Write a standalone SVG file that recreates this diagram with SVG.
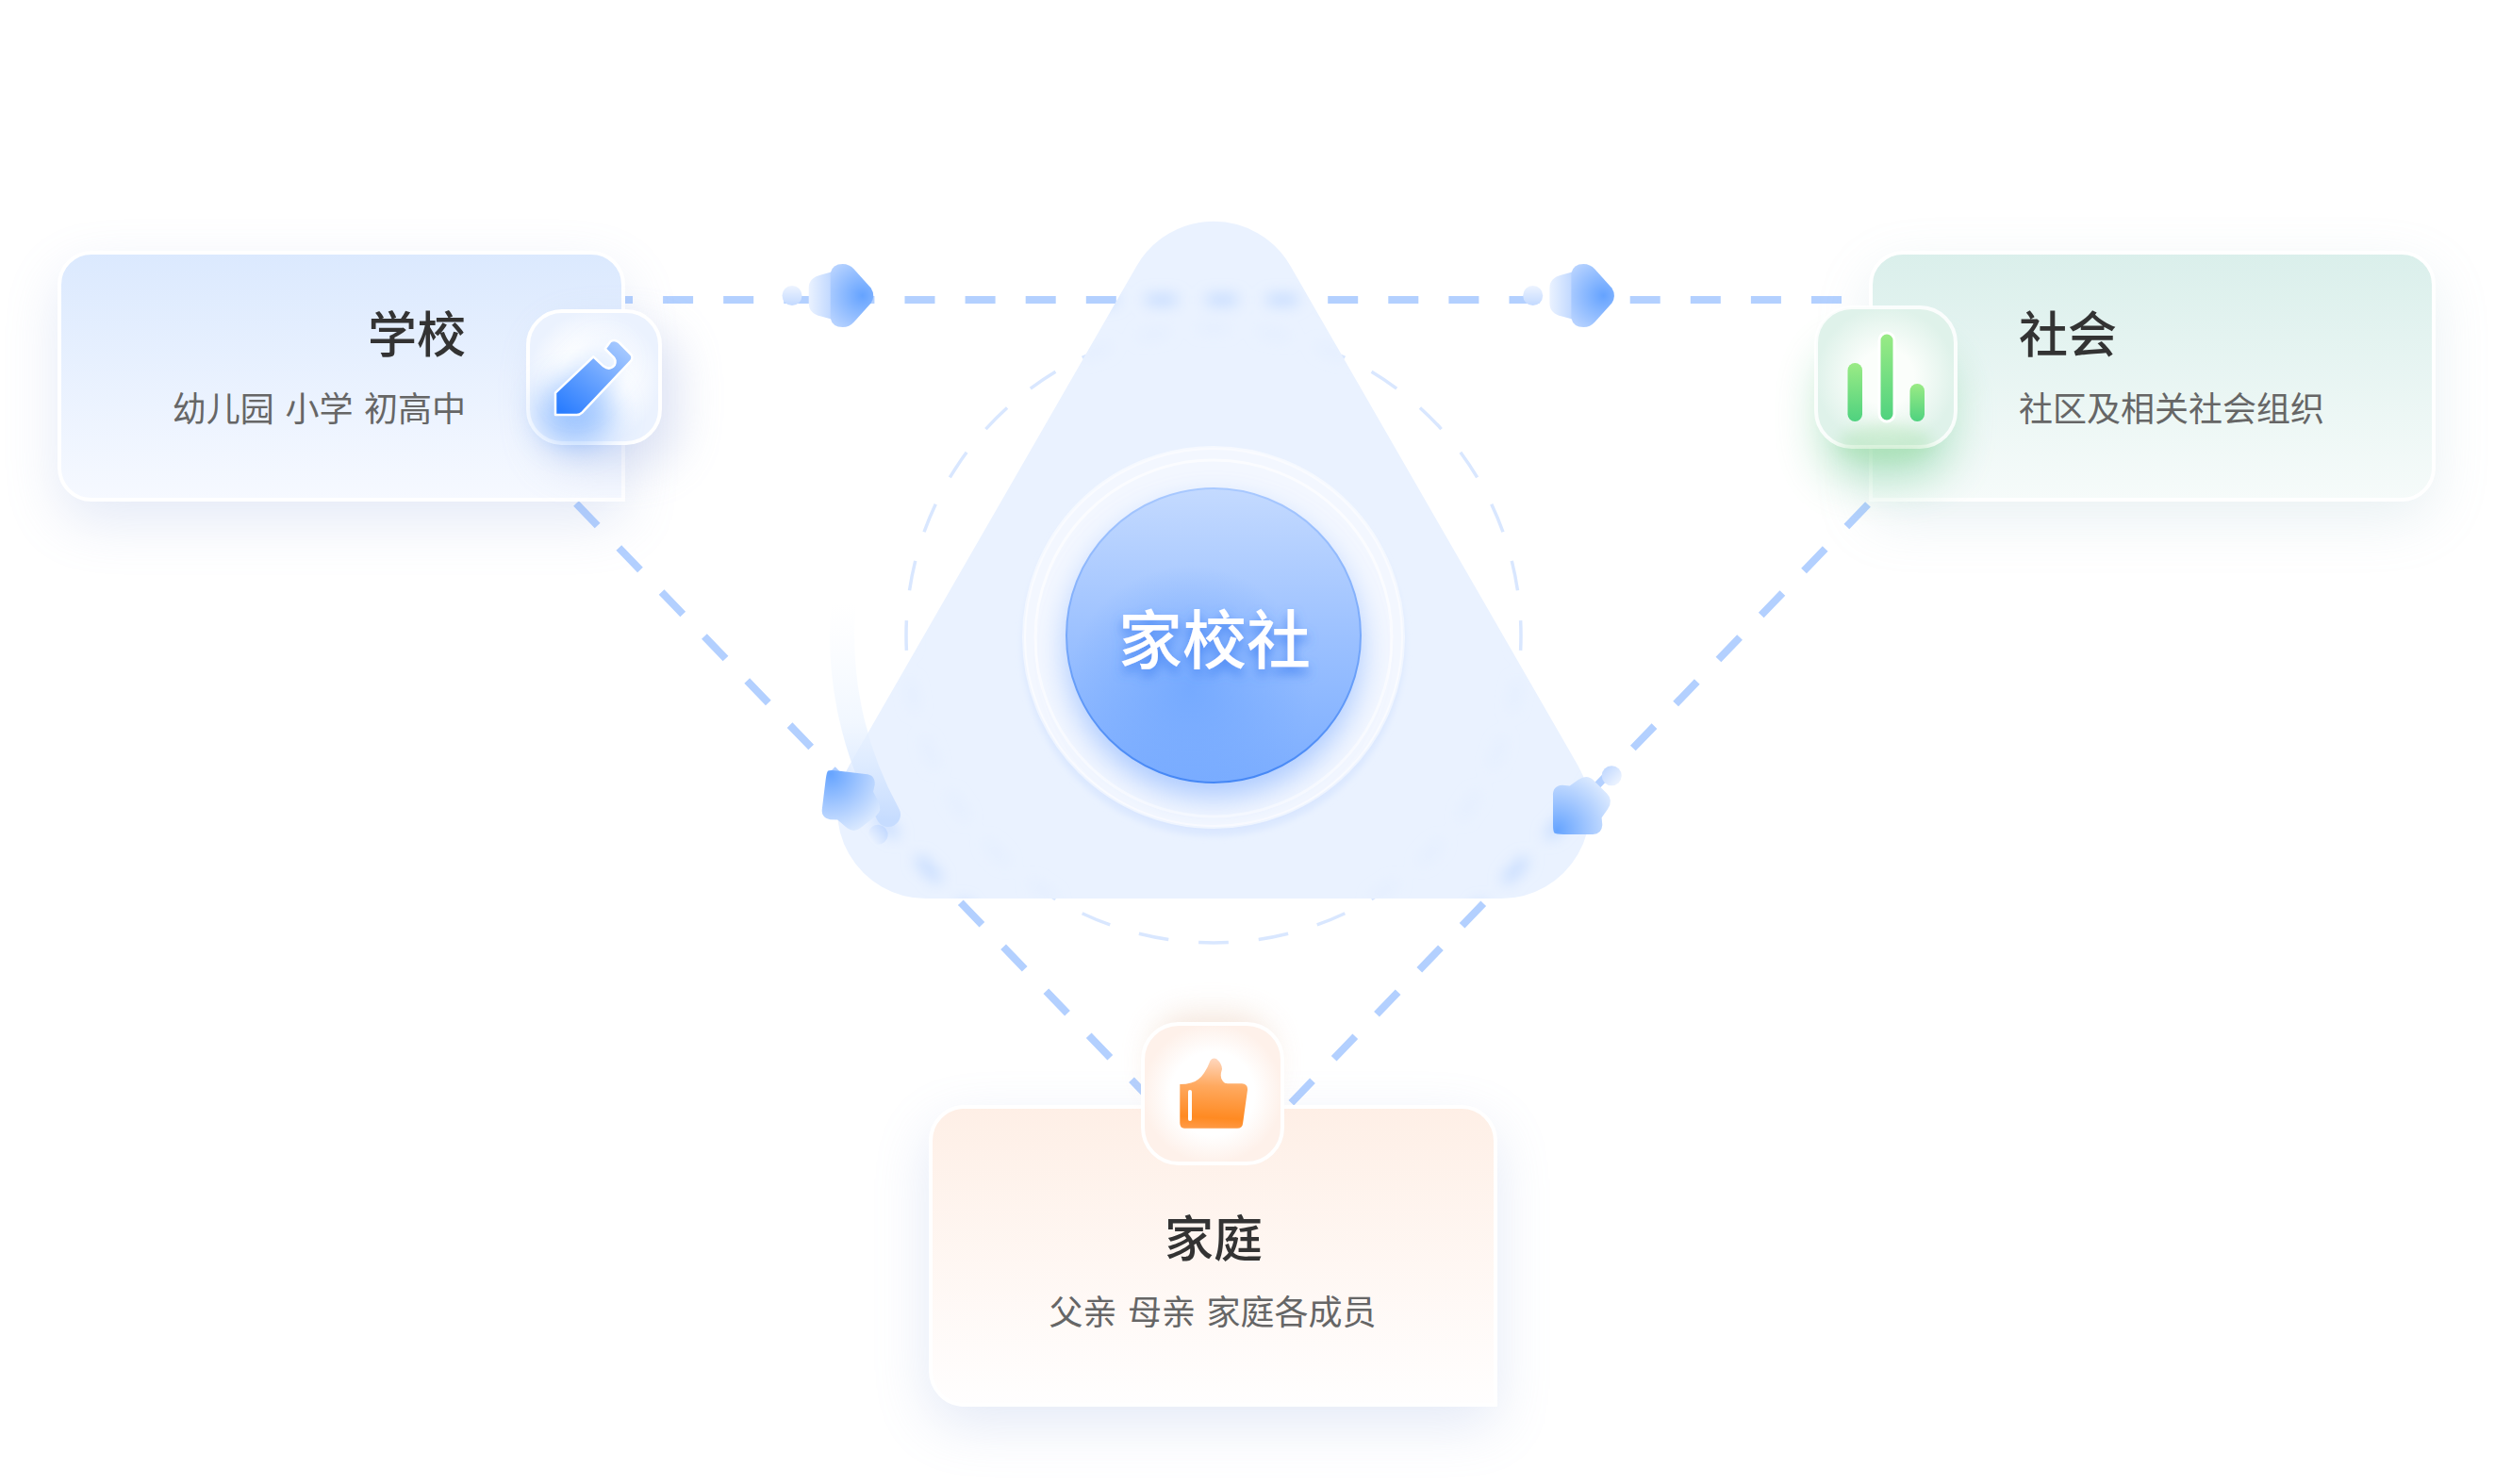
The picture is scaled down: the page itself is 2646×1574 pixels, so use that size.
<svg xmlns="http://www.w3.org/2000/svg" xmlns:xlink="http://www.w3.org/1999/xlink" width="2646" height="1574" viewBox="0 0 2646 1574">
<style>
text{font-family:"Noto Sans CJK SC","Liberation Sans",sans-serif}
.title{font-size:52px;font-weight:500;fill:#333}
.sub{font-size:36px;font-weight:400;fill:#666;word-spacing:3.5px}
.dash{fill:none;stroke:#b3d0ff;stroke-width:8}
.edge{stroke:#fff;stroke-width:4}
</style>
<defs>
<filter id="b3" filterUnits="userSpaceOnUse" x="0" y="0" width="2646" height="1574"><feGaussianBlur stdDeviation="3"/></filter>
<filter id="b8" filterUnits="userSpaceOnUse" x="0" y="0" width="2646" height="1574"><feGaussianBlur stdDeviation="8"/></filter>
<filter id="b16" filterUnits="userSpaceOnUse" x="0" y="0" width="2646" height="1574"><feGaussianBlur stdDeviation="16"/></filter>
<filter id="b24" filterUnits="userSpaceOnUse" x="0" y="0" width="2646" height="1574"><feGaussianBlur stdDeviation="24"/></filter>
<filter id="b30" filterUnits="userSpaceOnUse" x="0" y="0" width="2646" height="1574"><feGaussianBlur stdDeviation="30"/></filter>
<filter id="glow" x="-30%" y="-30%" width="160%" height="170%"><feDropShadow dx="0" dy="7" stdDeviation="6" flood-color="#3f80f2" flood-opacity=".85"/></filter>
<linearGradient id="gSchool" x1="0" y1="0" x2="0" y2="1"><stop offset="0" stop-color="#dbe9fe"/><stop offset="1" stop-color="#f6f9ff"/></linearGradient>
<linearGradient id="gSocial" x1="0" y1="0" x2="0" y2="1"><stop offset="0" stop-color="#daefeb"/><stop offset="1" stop-color="#f6fbfa"/></linearGradient>
<linearGradient id="gFamily" x1="0" y1="0" x2="0" y2="1"><stop offset="0" stop-color="#feefe6"/><stop offset="1" stop-color="#fffefe"/></linearGradient>
<radialGradient id="tSchool"><stop offset=".5" stop-color="#fff"/><stop offset="1" stop-color="#ebf2fe"/></radialGradient>
<radialGradient id="tSocial"><stop offset=".4" stop-color="#fbfefb"/><stop offset="1" stop-color="#dff2ea"/></radialGradient>
<radialGradient id="tFamily"><stop offset=".6" stop-color="#fff"/><stop offset="1" stop-color="#fef1ea"/></radialGradient>
<linearGradient id="gPen" gradientUnits="userSpaceOnUse" x1="600" y1="440" x2="665" y2="362"><stop offset="0" stop-color="#2a7dff"/><stop offset=".5" stop-color="#6aa4ff"/><stop offset="1" stop-color="#b0cfff"/></linearGradient>
<linearGradient id="gBar" x1="0" y1="0" x2="0" y2="1"><stop offset="0" stop-color="#9aeb85"/><stop offset="1" stop-color="#4fd27f"/></linearGradient>
<linearGradient id="gThumb" gradientUnits="userSpaceOnUse" x1="1290" y1="1122" x2="1286" y2="1197"><stop offset="0" stop-color="#ffd8c0"/><stop offset=".4" stop-color="#ffa95f"/><stop offset=".85" stop-color="#ff8a22"/><stop offset="1" stop-color="#ff9a45"/></linearGradient>
<linearGradient id="gHub" x1="0" y1="0" x2="0" y2="1"><stop offset="0" stop-color="#c4daff"/><stop offset=".5" stop-color="#9cc1ff"/><stop offset="1" stop-color="#7badff"/></linearGradient>
<radialGradient id="gHubCore" gradientUnits="userSpaceOnUse" cx="1262" cy="730" r="130"><stop offset="0" stop-color="#6fa6ff" stop-opacity=".8"/><stop offset="1" stop-color="#6fa6ff" stop-opacity="0"/></radialGradient>
<linearGradient id="gHubEdge" x1="0" y1="0" x2="0" y2="1"><stop offset="0" stop-color="#a9c9ff"/><stop offset="1" stop-color="#4587f5"/></linearGradient>
<linearGradient id="gArc" gradientUnits="userSpaceOnUse" x1="0" y1="640" x2="0" y2="870"><stop offset="0" stop-color="#f0f6ff" stop-opacity="0"/><stop offset=".55" stop-color="#eaf3ff" stop-opacity=".65"/><stop offset="1" stop-color="#c6dcff"/></linearGradient>
<radialGradient id="cHead" gradientUnits="userSpaceOnUse" cx="-12" cy="0" r="50"><stop offset="0" stop-color="#65a3ff"/><stop offset="1" stop-color="#c6dbff"/></radialGradient>
<linearGradient id="cBody" gradientUnits="userSpaceOnUse" x1="-69" y1="0" x2="-44" y2="0"><stop offset="0" stop-color="#eaf2ff"/><stop offset="1" stop-color="#bfd7ff"/></linearGradient>
<linearGradient id="cDot" gradientUnits="userSpaceOnUse" x1="0" y1="-10" x2="0" y2="10"><stop offset="0" stop-color="#ecf3ff"/><stop offset="1" stop-color="#c4daff"/></linearGradient>
<radialGradient id="cBlock" gradientUnits="userSpaceOnUse" cx="-6" cy="0" r="74"><stop offset="0" stop-color="#66a4ff"/><stop offset=".5" stop-color="#a9cbff"/><stop offset="1" stop-color="#e9f2ff"/></radialGradient>
<g id="comet">
<circle cx="-86.7" cy="0" r="10.5" fill="url(#cDot)"/>
<path d="M-45 -25 L-56 -22 Q-69 -19 -69 -8 V8 Q-69 19 -56 22 L-45 25 Z" fill="url(#cBody)"/>
<path d="M-46 -24 Q-44 -33.5 -33 -33.5 Q-26 -33.5 -21 -28 L-3 -8 Q2 0 -3 8 L-21 28 Q-26 33.5 -33 33.5 Q-44 33.5 -46 24 Z" fill="url(#cHead)"/>
</g>
<g id="block">
<circle cx="-88" cy="0" r="10.5" fill="url(#cDot)"/>
<path d="M-8 -8 Q-14 -14 -20 -20 L-29 -29 Q-36 -37 -44 -30 L-49 -24 L-60 -22 Q-71 -20 -71 -10 V10 Q-71 20 -60 22 L-49 24 L-44 30 Q-36 37 -29 29 L-20 20 Q-14 14 -8 8 Q-2 2 -2 0 Q-2 -2 -8 -8 Z" fill="url(#cBlock)"/>
</g>
<clipPath id="triClip"><path d="M1205.5 282 A94 94 0 0 1 1368.5 282 L1673.5 812 A94 94 0 0 1 1592 953 L982 953 A94 94 0 0 1 900.5 812 Z"/></clipPath>
</defs>
<rect width="2646" height="1574" fill="#fff"/>
<g id="connectors">
<line class="dash" x1="639" y1="318" x2="1953" y2="318" stroke-dasharray="32 32.1"/>
<line class="dash" x1="611" y1="534" x2="1245" y2="1192" stroke-dasharray="32.6 32.7"/>
<line class="dash" x1="1981" y1="535" x2="1347" y2="1193" stroke-dasharray="32.6 32.7"/>
</g>
<circle id="orbit" cx="1287" cy="674" r="326" fill="none" stroke="#d9e7ff" stroke-width="3.5" pathLength="2048" stroke-dasharray="32 32" stroke-dashoffset="16"/>
<g id="triangle">
<path d="M1205.5 282 A94 94 0 0 1 1368.5 282 L1673.5 812 A94 94 0 0 1 1592 953 L982 953 A94 94 0 0 1 900.5 812 Z" fill="#eaf2ff"/>
<g clip-path="url(#triClip)" filter="url(#b8)"><use href="#connectors"/><use href="#orbit"/></g>
</g>
<path id="arc" d="M895.5 630 A394 394 0 0 0 942 864" fill="none" stroke="url(#gArc)" stroke-width="26" stroke-linecap="round"/>
<g id="hub">
<circle cx="1287" cy="684" r="203" fill="#dbe8ff" filter="url(#b3)"/>
<circle cx="1287" cy="676" r="201" fill="#f3f7ff" stroke="#fff" stroke-opacity=".55" stroke-width="4"/>
<circle cx="1287" cy="677" r="189" fill="none" stroke="#fff" stroke-width="3" stroke-opacity=".65"/>
<circle cx="1287" cy="690" r="156" fill="#79aaff" opacity=".6" filter="url(#b16)"/>
<circle cx="1287" cy="674" r="156" fill="url(#gHub)" stroke="url(#gHubEdge)" stroke-width="2"/>
<circle cx="1287" cy="674" r="155" fill="url(#gHubCore)"/>
<text x="1288" y="704" font-size="68" font-weight="500" fill="#fff" text-anchor="middle" filter="url(#glow)">家校社</text>
</g>
<g id="school">
<path d="M97 268 H627 A34 34 0 0 1 661 302 V530 H97 A34 34 0 0 1 63 496 V302 A34 34 0 0 1 97 268 Z" fill="#8ca4dc" opacity=".24" filter="url(#b30)" transform="translate(0 22)"/>
<path class="edge" d="M97 268 H627 A34 34 0 0 1 661 302 V530 H97 A34 34 0 0 1 63 496 V302 A34 34 0 0 1 97 268 Z" fill="url(#gSchool)"/>
<text class="title" x="494" y="374" text-anchor="end">学校</text>
<text class="sub" x="494" y="447" text-anchor="end">幼儿园 小学 初高中</text>
<rect x="576" y="350" width="144" height="144" rx="38" fill="#97a9de" opacity=".3" filter="url(#b24)"/>
<rect class="edge" x="560" y="330" width="140" height="140" rx="36" fill="url(#tSchool)"/>
<ellipse cx="612" cy="438" rx="40" ry="34" fill="#4c94ff" opacity=".5" filter="url(#b16)"/>
<path d="M600 425 L652 372" stroke="#6ea8ff" stroke-width="30" opacity=".25" filter="url(#b16)"/>
<path d="M589 440 L589 416.7 L629.3 378.3 L640 388.3 Q646.7 393.3 651.7 387.3 Q654 381.7 650 378.3 L641.7 370 L647.3 362.3 Q651.7 359.3 656.7 363.3 L669.3 376 Q671.7 379 669.3 382.7 L617.3 437.7 Q615 440 611.7 440 Z" fill="url(#gPen)" stroke="#fff" stroke-width="2.5" stroke-linejoin="round"/>
</g>
<g id="social">
<path d="M2018 268 H2547 A34 34 0 0 1 2581 302 V496 A34 34 0 0 1 2547 530 H1984 V302 A34 34 0 0 1 2018 268 Z" fill="#8fb8c4" opacity=".2" filter="url(#b30)" transform="translate(0 20)"/>
<path class="edge" d="M2018 268 H2547 A34 34 0 0 1 2581 302 V496 A34 34 0 0 1 2547 530 H1984 V302 A34 34 0 0 1 2018 268 Z" fill="url(#gSocial)"/>
<text class="title" x="2141" y="374">社会</text>
<text class="sub" x="2141" y="447">社区及相关社会组织</text>
<rect x="1932" y="372" width="136" height="136" rx="40" fill="#68c98d" opacity=".48" filter="url(#b24)"/>
<rect class="edge" x="1926" y="326" width="148" height="148" rx="38" fill="url(#tSocial)" stroke-opacity=".85"/>
<ellipse cx="2000" cy="470" rx="50" ry="20" fill="#a5e0a8" opacity=".38" filter="url(#b8)"/>
<rect x="1959.5" y="385" width="15.5" height="62" rx="7.7" fill="url(#gBar)"/>
<rect x="1993" y="353" width="16" height="94" rx="8" fill="url(#gBar)" stroke="#fff" stroke-width="3"/>
<rect x="2025.5" y="407" width="15.5" height="40" rx="7.7" fill="url(#gBar)"/>
</g>
<g id="family">
<path d="M1021 1174 H1550 A36 36 0 0 1 1586 1210 V1490 H1021 A36 36 0 0 1 985 1454 V1210 A36 36 0 0 1 1021 1174 Z" fill="#8ca4dc" opacity=".24" filter="url(#b30)" transform="translate(0 20)"/>
<path class="edge" d="M1021 1174 H1550 A36 36 0 0 1 1586 1210 V1490 H1021 A36 36 0 0 1 987 1454 V1210 A36 36 0 0 1 1021 1174 Z" fill="url(#gFamily)"/>
<text class="title" x="1287" y="1333" text-anchor="middle">家庭</text>
<text class="sub" x="1286" y="1405" text-anchor="middle">父亲 母亲 家庭各成员</text>
<rect x="1222" y="1076" width="128" height="100" rx="40" fill="#e8c7b0" opacity=".45" filter="url(#b16)"/>
<rect class="edge" x="1212" y="1086" width="148" height="148" rx="38" fill="url(#tFamily)"/>
<path d="M1251.3 1150 Q1270 1150 1277 1138 Q1281 1132 1283.5 1125 Q1286 1121.5 1290 1123 Q1296 1128 1296 1134 Q1293 1143 1297 1147 Q1298.5 1149.3 1302 1149.3 H1317 Q1323.5 1150 1323 1156 L1318 1192 Q1317.5 1196.7 1312 1196.7 H1256 Q1251.3 1196.7 1251.3 1191 Z" fill="url(#gThumb)"/>
<rect x="1260" y="1156" width="4" height="33" rx="2" fill="#fff"/>
</g>
<g id="comets">
<use href="#comet" transform="translate(926.7 313.5)"/>
<use href="#comet" transform="translate(1712.4 313.5)"/>
<use href="#block" transform="translate(877 816) rotate(-128)"/>
<use href="#block" transform="translate(1647 885) rotate(135)"/>
</g>
</svg>
